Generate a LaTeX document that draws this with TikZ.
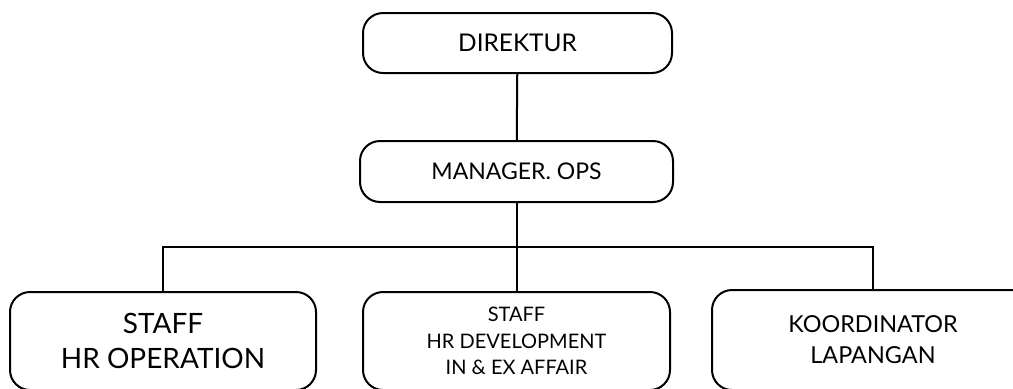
\documentclass[tikz,border=0pt]{standalone}
\usepackage{fontspec}
\setmainfont{Lato}
\usetikzlibrary{positioning}

\begin{document}
\begin{tikzpicture}[x=0.5pt, y=-0.5pt, line width=1pt,
    box/.style={draw, rounded corners=10pt, align=center, inner sep=0pt}]
    \useasboundingbox (0,0) rectangle (1013,388);

    % Top of the chart
    \node (dir) [box, minimum width=154.5pt, minimum height=30pt,
        font=\fontsize{12.2}{15}\selectfont] at (517.5,43) {DIREKTUR};
    \node (mgr) [box, minimum width=156.5pt, minimum height=30.5pt,
        font=\fontsize{11.5}{15}\selectfont] at (516.5,171.5) {MANAGER. OPS};

    % Staff level
    \node (staffops) [box, minimum width=153pt, minimum height=49pt,
        font=\fontsize{14}{17.5}\selectfont] at (163,341) {STAFF\\HR OPERATION};
    \node (staffdev) [box, minimum width=153.5pt, minimum height=49pt,
        font=\fontsize{10}{13.3}\selectfont] at (516.5,341) {STAFF\\HR DEVELOPMENT\\IN \& EX AFFAIR};
    \node (koord) [box, minimum width=161pt, minimum height=50pt,
        font=\fontsize{11.7}{15.5}\selectfont] at (873,340) {KOORDINATOR\\LAPANGAN};

    \coordinate (bus) at (516,247);

    \draw (dir) -- (mgr);
    \draw (mgr.south) -- (staffdev.north);
    \draw (staffops.north) -- (staffops.north |- bus) -- (koord.north |- bus) -- (koord.north);
\end{tikzpicture}
\end{document}
